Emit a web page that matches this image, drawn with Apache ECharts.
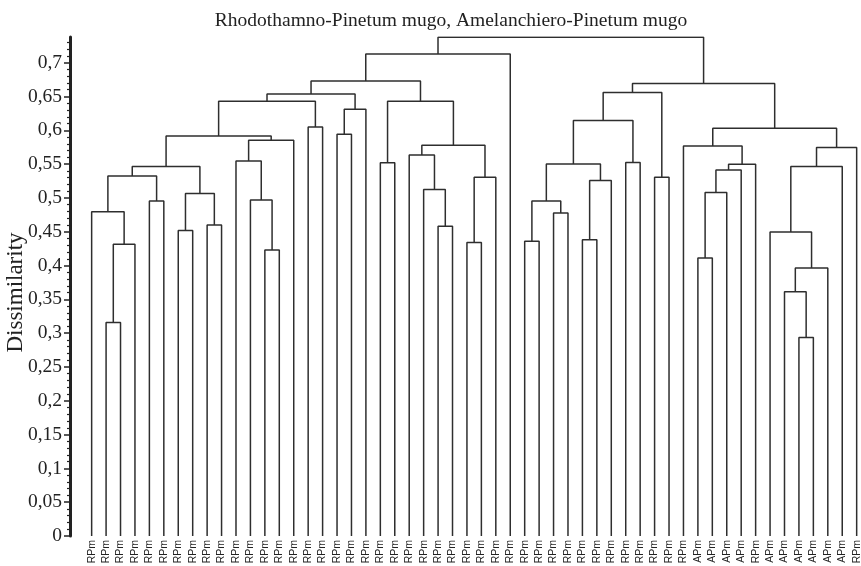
<!DOCTYPE html>
<html>
<head>
<meta charset="utf-8">
<script src="https://cdn.jsdelivr.net/npm/echarts@6/dist/echarts.min.js"></script>
<style>html,body{margin:0;padding:0;background:#fff}#c{width:861px;height:566px}</style>
</head>
<body>
<div id="c"></div>
<script>
const titleText = 'Rhodothamno-Pinetum mugo, Amelanchiero-Pinetum mugo';
const leafLabels = [
  'RPm','RPm','RPm','RPm','RPm','RPm','RPm','RPm','RPm','RPm',
  'RPm','RPm','RPm','RPm','RPm','RPm','RPm','RPm','RPm','RPm',
  'RPm','RPm','RPm','RPm','RPm','RPm','RPm','RPm','RPm','RPm',
  'RPm','RPm','RPm','RPm','RPm','RPm','RPm','RPm','RPm','RPm',
  'RPm','RPm','APm','APm','APm','APm','RPm','APm','APm','APm',
  'APm','APm','APm','RPm'
];
// merges: [left node, right node, dissimilarity]; leaves are 0..53, merge k creates node 54+k
const mergeLeft  = [1,54,0,4,56,6,8,59,58,12,11,10,65,62,15,67,17,70,69,20,24,23,22,26,77,76,73,72,81,30,32,83,34,86,85,37,88,39,90,42,93,94,95,41,49,48,99,47,101,102,97,92,82];
const mergeRight = [2,3,55,5,57,7,9,60,61,13,63,64,14,66,16,68,18,19,71,21,25,74,75,27,28,78,79,80,29,31,33,84,35,36,87,38,89,40,91,43,44,45,46,96,50,98,51,100,52,53,103,104,105];
const mergeHeight = [0.3156,0.4315,0.4797,0.4956,0.5325,0.4517,0.460,0.5064,0.5463,0.423,0.497,0.5545,0.5853,0.5917,0.605,0.643,0.594,0.6312,0.6538,0.552,0.458,0.5123,0.5636,0.4339,0.5306,0.578,0.643,0.673,0.713,0.436,0.4778,0.4956,0.438,0.5256,0.5503,0.5523,0.6144,0.5306,0.6558,0.411,0.508,0.5414,0.5498,0.5769,0.2934,0.3614,0.3964,0.4497,0.5463,0.5745,0.603,0.6692,0.7377];
const yTicks = [0,0.05,0.1,0.15,0.2,0.25,0.3,0.35,0.4,0.45,0.5,0.55,0.6,0.65,0.7];
const yName = 'Dissimilarity';

const nLeaves = leafLabels.length;
const nodeX = [], nodeH = [];
for (let i = 0; i < nLeaves; i++) { nodeX.push(i); nodeH.push(0); }
const series = [];
for (let k = 0; k < mergeHeight.length; k++) {
  const a = mergeLeft[k], b = mergeRight[k], h = mergeHeight[k];
  series.push({
    type: 'line', symbol: 'none', silent: true, animation: false,
    lineStyle: { color: '#2e2e2e', width: 1.5 },
    data: [[nodeX[a], nodeH[a]], [nodeX[a], h], [nodeX[b], h], [nodeX[b], nodeH[b]]]
  });
  nodeX.push((nodeX[a] + nodeX[b]) / 2);
  nodeH.push(h);
}
const leafIdx = leafLabels.map((_, i) => i);

const chart = echarts.init(document.getElementById('c'));
chart.setOption({
  animation: false,
  backgroundColor: '#fff',
  title: {
    text: titleText, left: 446, top: 6, textAlign: 'center',
    textStyle: { fontFamily: 'Liberation Serif', fontSize: 19.5, fontWeight: 'normal', color: '#222' }
  },
  grid: { left: 70, right: 0, top: 37, bottom: 30, containLabel: false, outerBoundsMode: 'none' },
  xAxis: {
    type: 'value', min: -1.5, max: 53.3,
    axisLine: { show: false }, axisTick: { show: false }, splitLine: { show: false },
    axisLabel: {
      customValues: leafIdx, rotate: 90, margin: 4,
      formatter: v => leafLabels[v] || '',
      fontFamily: 'Liberation Sans', fontSize: 10.5, color: '#222'
    }
  },
  yAxis: {
    type: 'value', min: 0, max: 0.738, interval: 0.05,
    name: yName, nameLocation: 'middle', nameGap: 43, nameMoveOverlap: false,
    nameTextStyle: { fontFamily: 'Liberation Serif', fontSize: 23, color: '#222', padding: [0, 12, 0, 0] },
    axisLine: { show: true, onZero: false, lineStyle: { color: '#222', width: 3 } },
    axisTick: { show: true, customValues: yTicks, length: 6, lineStyle: { color: '#222', width: 1.5 } },
    minorTick: { show: true, splitNumber: 5, length: 3, lineStyle: { color: '#222', width: 1.2 } },
    splitLine: { show: false },
    axisLabel: {
      customValues: yTicks, margin: 8,
      formatter: v => String(v).replace('.', ','),
      fontFamily: 'Liberation Serif', fontSize: 19.5, color: '#222'
    }
  },
  series: series
});
</script>
</body>
</html>
